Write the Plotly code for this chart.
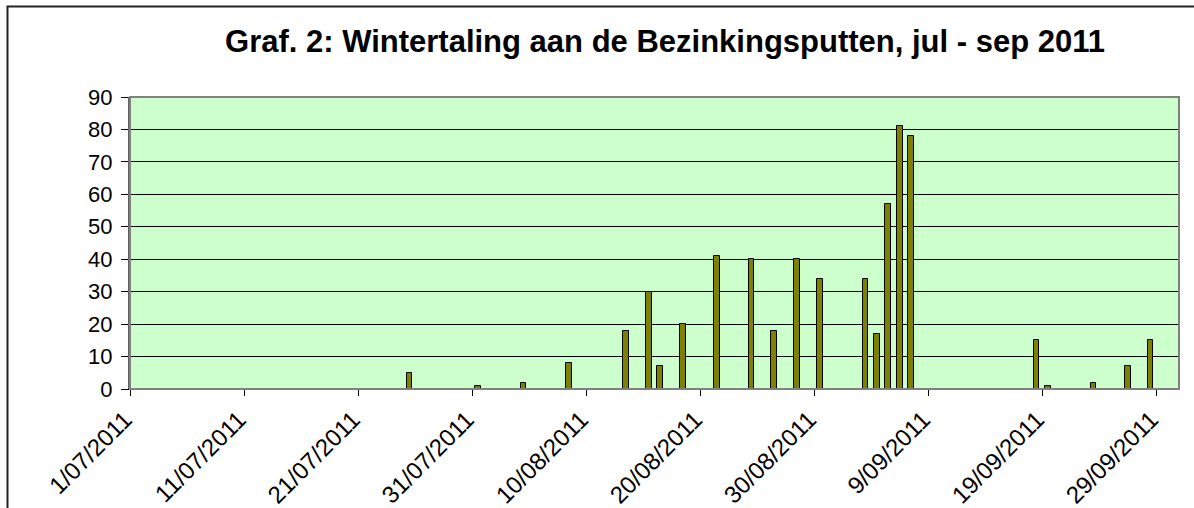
import datetime as dt
import plotly.graph_objects as go

# ---- data ----
obs_dates = ["2011-07-25", "2011-07-31", "2011-08-04", "2011-08-08", "2011-08-13",
             "2011-08-15", "2011-08-16", "2011-08-18", "2011-08-21", "2011-08-24",
             "2011-08-26", "2011-08-28", "2011-08-30", "2011-09-03", "2011-09-04",
             "2011-09-05", "2011-09-06", "2011-09-07", "2011-09-18", "2011-09-19",
             "2011-09-23", "2011-09-26", "2011-09-28"]
counts = [5, 1, 2, 8, 18, 30, 7, 20, 41, 40, 18, 40, 34, 34, 17, 57, 81, 78, 15, 1, 2, 7, 15]

tick_dates = ["2011-07-01", "2011-07-11", "2011-07-21", "2011-07-31", "2011-08-10",
              "2011-08-20", "2011-08-30", "2011-09-09", "2011-09-19", "2011-09-29"]
tick_labels = ["1/07/2011", "11/07/2011", "21/07/2011", "31/07/2011", "10/08/2011",
               "20/08/2011", "30/08/2011", "9/09/2011", "19/09/2011", "29/09/2011"]
y_ticks = [0, 10, 20, 30, 40, 50, 60, 70, 80, 90]

title_text = "Graf. 2: Wintertaling aan de Bezinkingsputten, jul - sep 2011"

# bars are centred in their day slot (Excel date axis, between tick marks)
bar_x = [dt.datetime.fromisoformat(d) + dt.timedelta(hours=12) for d in obs_dates]
DAY_MS = 86400000

fig = go.Figure()
fig.add_trace(go.Bar(
    x=bar_x, y=counts,
    width=[0.5 * DAY_MS] * len(counts),
    marker=dict(color="#808000", line=dict(color="#000000", width=1)),
    hoverinfo="x+y",
))

FONT = "Liberation Sans, Arial, sans-serif"

fig.update_layout(
    width=1194, height=508,
    margin=dict(l=130, r=15, t=97, b=119, autoexpand=False),
    paper_bgcolor="white",
    plot_bgcolor="#CCFFCC",
    showlegend=False,
    bargap=0,
    title=dict(text="<b>" + title_text + "</b>", x=665 / 1194, xanchor="center",
               y=1 - 41 / 508, yanchor="middle", yref="container",
               font=dict(family=FONT, size=31, color="black")),
    font=dict(family=FONT, size=20, color="black"),
)

fig.update_xaxes(
    type="date",
    range=["2011-07-01", "2011-10-01"],
    tickvals=tick_dates, ticktext=tick_labels,
    tickangle=-45,
    automargin=False,
    ticks="outside", ticklen=6, tickcolor="#000000", tickwidth=1,
    showgrid=False, zeroline=False,
    showline=True, linecolor="#000000", linewidth=1,
    tickfont=dict(family=FONT, size=24, color="black"),
    ticklabelshift=-5,
    ticklabelstandoff=0,
)
fig.update_yaxes(
    range=[0, 90],
    tickvals=y_ticks,
    automargin=False,
    ticks="outside", ticklen=7, tickcolor="#000000", tickwidth=1,
    showgrid=True, gridcolor="#000000", gridwidth=1,
    zeroline=False,
    showline=True, linecolor="#606060", linewidth=2,
    tickfont=dict(family=FONT, size=22, color="black"),
    ticklabelstandoff=4,
)

# plot-area border (grey) and chart-area frame
fig.add_shape(type="rect", xref="paper", yref="paper", x0=0, x1=1, y0=0, y1=1,
              line=dict(color="#808080", width=2), layer="above")
fig.add_shape(type="rect", xref="paper", yref="paper",
              x0=(7.5 - 130) / 1049, x1=(1210 - 130) / 1049,
              y0=(389.3 - 530) / 292, y1=(389.3 - 6.7) / 292,
              line=dict(color="#222222", width=2), layer="above")

fig.write_html("out.html",
               config={"displayModeBar": False},
               post_script="document.body.style.margin='0';document.body.style.padding='0';")
